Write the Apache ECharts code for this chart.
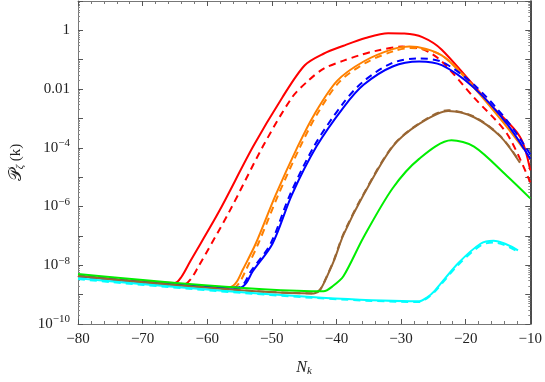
<!DOCTYPE html>
<html>
<head>
<meta charset="utf-8">
<script src="https://cdn.jsdelivr.net/npm/echarts@6/dist/echarts.min.js"></script>
<style>
  html, body { margin: 0; padding: 0; background: #fff; }
  #chart { width: 545px; height: 382px; }
</style>
</head>
<body>
<div id="chart"></div>
<script>
// N_k values and P_zeta(k) for each curve
const redX      = [-80, -65, -64, -62.6, -58.2, -52.9, -48.4, -44.9, -42, -38.9, -35.5, -32, -29.5, -26.7, -23.7, -16.2, -11.6, -10];
const redY      = [4.3e-9, 2.5e-9, 4.0e-9, 1.4e-8, 6.6e-7, 1.1e-4, 5.1e-3, 0.065, 0.16, 0.30, 0.55, 0.8, 0.78, 0.59, 0.22, 3.0e-3, 2.4e-4, 1.7e-5];
const redDashX  = [-80, -63.5, -62.5, -61.5, -56.6, -51.4, -46.9, -44.4, -41.9, -38.9, -36.5, -33.9, -29.8, -26.5, -23.7, -18.7, -13.6, -10];
const redDashY  = [4.3e-9, 2.3e-9, 3.5e-9, 8e-9, 6.6e-7, 1.1e-4, 5.1e-3, 0.019, 0.051, 0.093, 0.14, 0.2, 0.28, 0.22, 0.087, 5.1e-3, 3.0e-4, 6.6e-6];
const orangeX     = [-80, -56.5, -55.5, -54.5, -52.5, -49.4, -46, -43.4, -39.9, -35.8, -31.3, -28.7, -23.7, -18.7, -13.6, -11];
const orangeY     = [4.3e-9, 1.8e-9, 2.6e-9, 7e-9, 5.4e-8, 2.5e-6, 1.1e-4, 1.4e-3, 0.019, 0.087, 0.23, 0.28, 0.14, 0.011, 5.1e-4, 9e-5];
const orangeDashX = [-80, -56, -55, -54, -52.1, -49, -45.6, -43, -39.5, -35.4, -31, -28.5, -23.7, -18.7, -13.6, -11];
const orangeDashY = [4.0e-9, 1.7e-9, 2.6e-9, 7e-9, 5.4e-8, 2.5e-6, 1.1e-4, 1.4e-3, 0.018, 0.08, 0.2, 0.25, 0.14, 0.012, 5.5e-4, 1e-4];
const blueX     = [-80, -55, -54, -53, -49.9, -46.9, -43.1, -38.9, -35.8, -31.3, -27.2, -23.7, -18.7, -13.6, -10];
const blueY     = [4.3e-9, 1.7e-9, 2.4e-9, 6e-9, 5.4e-8, 2.5e-6, 1.1e-4, 2.4e-3, 0.014, 0.059, 0.087, 0.065, 0.011, 6.5e-4, 4.2e-5];
const blueDashX = [-80, -55.3, -54.3, -53.3, -50.2, -47.2, -43.4, -39.2, -36, -31.5, -27.5, -23.7, -18.7, -13.6, -10];
const blueDashY = [4.3e-9, 1.7e-9, 2.4e-9, 6e-9, 5.4e-8, 2.5e-6, 1.2e-4, 2.8e-3, 0.017, 0.075, 0.11, 0.085, 0.014, 8.5e-4, 6e-5];
const brownX     = [-80, -43.5, -42.5, -41.5, -40.4, -38.9, -35.8, -31.3, -27.2, -22.7, -18.7, -14.6, -11.6];
const brownY     = [4.3e-9, 1.1e-9, 1.5e-9, 4e-9, 1.4e-8, 1.1e-7, 2.5e-6, 1.1e-4, 6.5e-4, 1.8e-3, 1.1e-3, 2.4e-4, 3.1e-5];
const brownDashY = [4.3e-9, 1.1e-9, 1.5e-9, 4.2e-9, 1.5e-8, 1.2e-7, 2.7e-6, 1.15e-4, 6.8e-4, 1.9e-3, 1.15e-3, 2.5e-4, 3.3e-5];
const greenX    = [-80, -42, -40.5, -38.9, -35.8, -31.3, -27.2, -22.2, -18.7, -13.6, -10];
const greenY    = [5.0e-9, 1.3e-9, 2.0e-9, 4.3e-9, 9e-8, 4.2e-6, 4.2e-5, 1.8e-4, 1.1e-4, 1.1e-5, 1.9e-6];
const cyanX     = [-80, -27.2, -26, -24.8, -21.2, -17.7, -15.7, -13.9, -11.9];
const cyanY     = [3.6e-9, 5.9e-10, 8e-10, 1.35e-9, 1.15e-8, 5.4e-8, 6.8e-8, 5.4e-8, 3.2e-8];
const cyanDashY = [3.4e-9, 5.6e-10, 7.5e-10, 1.25e-9, 1.0e-8, 4.7e-8, 6.0e-8, 4.8e-8, 2.9e-8];

const xTicks = [-80, -70, -60, -50, -40, -30, -20, -10];

const zip = (xs, ys) => xs.map((x, i) => [x, ys[i]]);

const line = (name, xs, ys, color, dashed) => ({
  name: name,
  type: 'line',
  data: zip(xs, ys),
  smooth: 0.3,
  showSymbol: false,
  silent: true,
  lineStyle: {
    color: color,
    width: 2,
    type: dashed ? [7, 5] : 'solid'
  }
});

const serif = 'Liberation Serif';

const supLabel = (v) => {
  const e = Math.round(Math.log10(v));
  if (e % 2 !== 0 || e > 0) return '';
  if (e === 0) return '1';
  if (e === -2) return '0.01';
  return '10{sup|\u2212' + Math.abs(e) + '}';
};

var dom = document.getElementById('chart');
var myChart = echarts.init(dom);

var option = {
  animation: false,
  grid: { left: 68, right: 14, top: 1, bottom: 50 },
  xAxis: [
    {
      type: 'value',
      min: -80, max: -10, interval: 10,
      name: '{i|N}{sub|k}',
      nameLocation: 'middle',
      nameGap: 34,
      nameTextStyle: {
        rich: {
          i: { fontFamily: serif, fontStyle: 'italic', fontSize: 16, color: '#222' },
          sub: { fontFamily: serif, fontStyle: 'italic', fontSize: 11, color: '#222', padding: [8, 0, 0, 0] }
        }
      },
      axisLine: { lineStyle: { color: '#777', width: 1 } },
      axisTick: { inside: true, length: 5, lineStyle: { color: '#555' } },
      minorTick: { show: true, splitNumber: 5, length: 3, lineStyle: { color: '#777' } },
      splitLine: { show: false },
      axisLabel: {
        fontFamily: serif, fontSize: 15, color: '#222', margin: 8,
        formatter: (v) => xTicks.includes(v) ? '\u2212' + Math.abs(v) : ''
      }
    },
    {
      type: 'value', position: 'top',
      min: -80, max: -10, interval: 10,
      axisLine: { show: true, lineStyle: { color: '#777' } },
      axisTick: { inside: true, length: 5, lineStyle: { color: '#555' } },
      minorTick: { show: true, splitNumber: 5, length: 3, lineStyle: { color: '#777' } },
      axisLabel: { show: false },
      splitLine: { show: false }
    }
  ],
  yAxis: [
    {
      type: 'log', logBase: 10,
      min: 1e-10, max: 10, interval: 1,
      name: '{p|\uD835\uDCAB}{sub|\u03B6} {k|(k)}',
      nameLocation: 'middle',
      nameGap: 52,
      nameRotate: 90,
      nameTextStyle: {
        rich: {
          p: { fontFamily: serif, fontSize: 17, color: '#222' },
          sub: { fontFamily: serif, fontStyle: 'italic', fontSize: 11, color: '#222', padding: [8, 0, 0, 0] },
          k: { fontFamily: serif, fontSize: 15, color: '#222' }
        }
      },
      axisLine: { show: true, lineStyle: { color: '#777', width: 1 } },
      axisTick: { inside: true, length: 5, lineStyle: { color: '#555' } },
      minorTick: { show: true, splitNumber: 9, length: 2, lineStyle: { color: '#888' } },
      splitLine: { show: false },
      axisLabel: {
        fontFamily: serif, fontSize: 15, color: '#222', margin: 8,
        formatter: supLabel,
        rich: {
          sup: { fontFamily: serif, fontSize: 11, color: '#222', padding: [0, 0, 9, 0] }
        }
      }
    },
    {
      type: 'log', logBase: 10, position: 'right',
      min: 1e-10, max: 10, interval: 1,
      axisLine: { show: true, lineStyle: { color: '#111', width: 1.5 } },
      axisTick: { inside: true, length: 5, lineStyle: { color: '#555' } },
      minorTick: { show: true, splitNumber: 9, length: 2, lineStyle: { color: '#888' } },
      axisLabel: { show: false },
      splitLine: { show: false }
    }
  ],
  series: [
    line('red', redX, redY, '#ff0000', false),
    line('red dashed', redDashX, redDashY, '#ff0000', true),
    line('orange', orangeX, orangeY, '#ff8000', false),
    line('orange dashed', orangeDashX, orangeDashY, '#ff8000', true),
    line('blue', blueX, blueY, '#0000ff', false),
    line('blue dashed', blueDashX, blueDashY, '#0000ff', true),
    line('brown', brownX, brownY, '#996633', false),
    line('brown dashed', brownX, brownDashY, '#996633', true),
    line('green', greenX, greenY, '#00ee00', false),
    line('cyan', cyanX, cyanY, '#00ffff', false),
    line('cyan dashed', cyanX, cyanDashY, '#00ffff', true)
  ]
};

if (option && typeof option === 'object') {
  myChart.setOption(option);
}
</script>
</body>
</html>
